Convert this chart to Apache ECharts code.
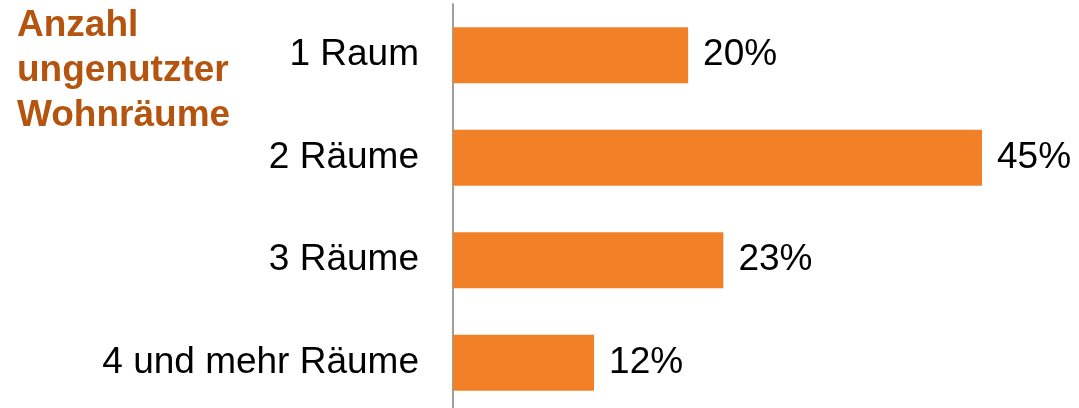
<!DOCTYPE html>
<html>
<head>
<meta charset="utf-8">
<script src="https://cdn.jsdelivr.net/npm/echarts@6/dist/echarts.min.js"></script>
<style>
  html, body { margin: 0; padding: 0; background: #fff; overflow: hidden; }
  #chart { width: 1079px; height: 420px; }
</style>
</head>
<body>
<div id="chart"></div>
<script>
var categories = ['1 Raum', '2 Räume', '3 Räume', '4 und mehr Räume'];
var shares = [20, 45, 23, 12];
var titleText = 'Anzahl\nungenutzter\nWohnräume';

var chart = echarts.init(document.getElementById('chart'));

var option = {
    animation: false,
    textStyle: { fontFamily: 'Liberation Sans, Arial, sans-serif' },
    title: {
        text: titleText,
        left: 12,
        top: -2,
        textStyle: {
            color: '#B5540E',
            fontSize: 37,
            fontWeight: 'bold',
            lineHeight: 45,
            fontFamily: 'Liberation Sans, Arial, sans-serif'
        }
    },
    grid: {
        left: 453,
        top: 4,
        width: 529,
        height: 410
    },
    xAxis: {
        type: 'value',
        min: 0,
        max: 45,
        show: false
    },
    yAxis: {
        type: 'category',
        data: categories,
        inverse: true,
        axisTick: { show: false },
        axisLine: { lineStyle: { color: '#a0a0a0', width: 2 } },
        axisLabel: {
            color: '#000',
            fontSize: 37,
            margin: 34
        }
    },
    series: [
        {
            type: 'bar',
            data: shares,
            barWidth: 56,
            itemStyle: { color: '#F28026' },
            label: {
                show: true,
                position: 'right',
                distance: 15,
                color: '#000',
                fontSize: 37,
                formatter: '{c}%'
            }
        }
    ]
};

chart.setOption(option);
</script>
</body>
</html>
